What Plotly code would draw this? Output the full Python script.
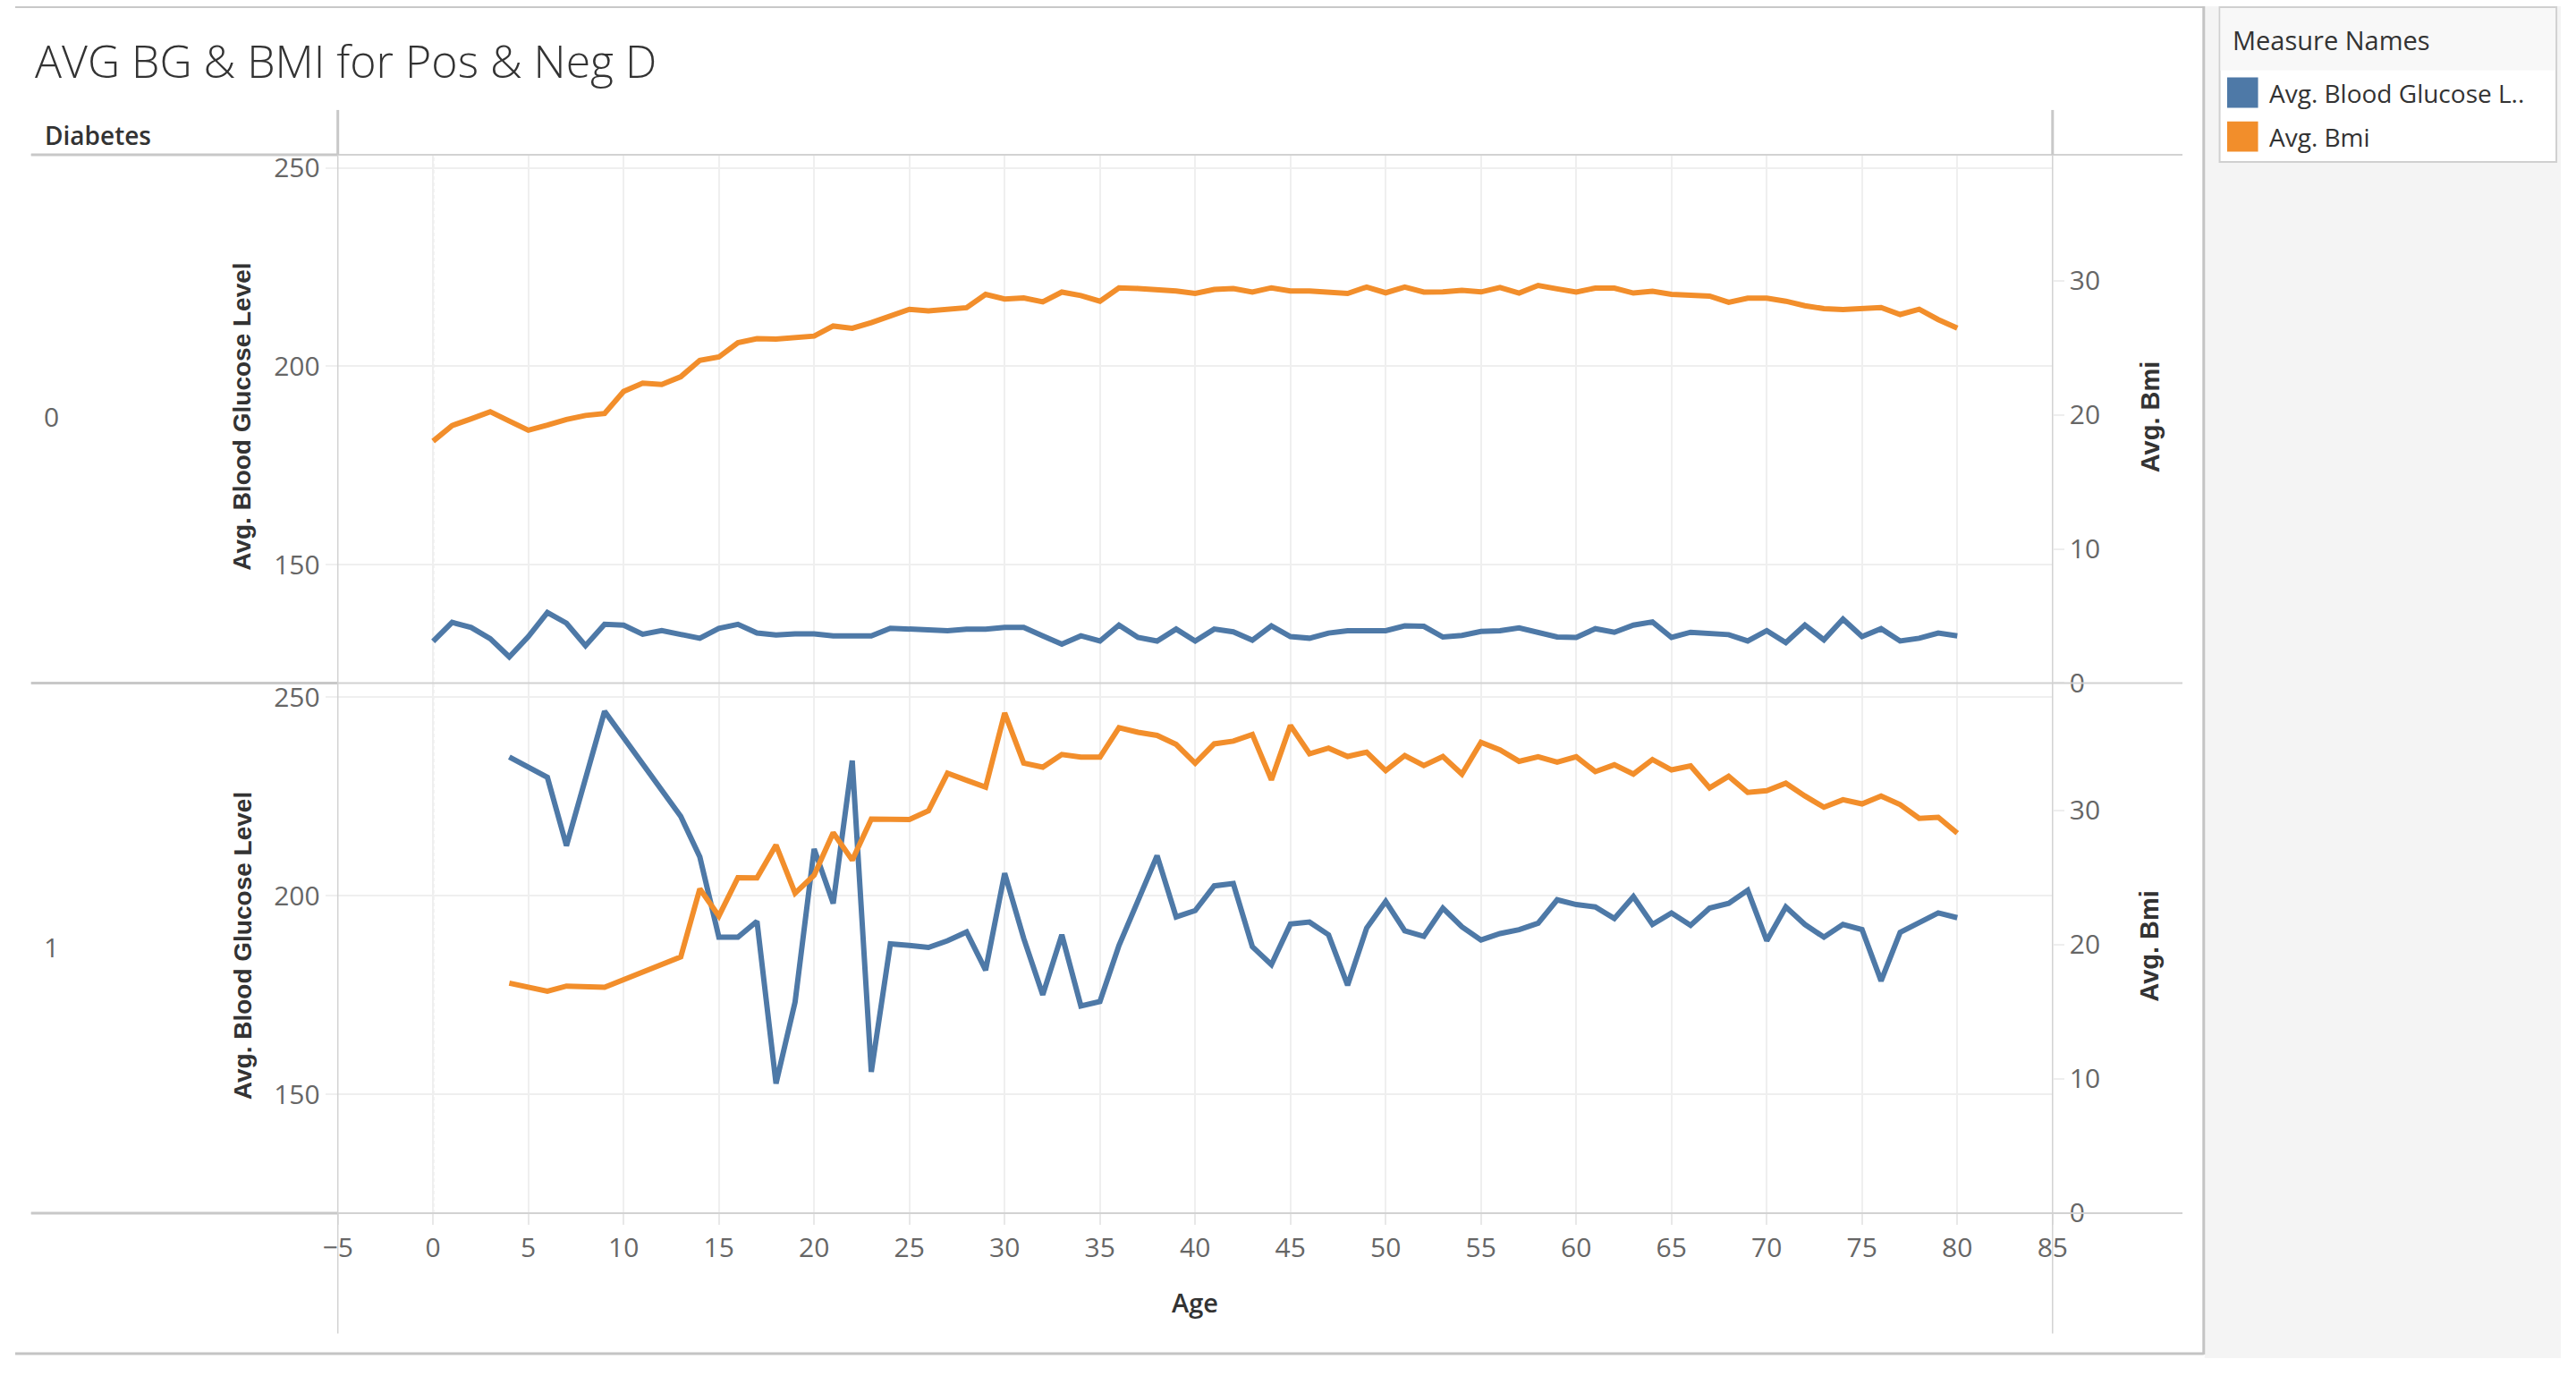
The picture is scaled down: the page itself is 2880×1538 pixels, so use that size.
import plotly.graph_objects as go

# ---------------- data ----------------
ages_neg = list(range(0, 81))
bg_neg = [130.7, 135.5, 134.2, 131.4, 126.8, 131.9, 138.0, 135.3, 129.6, 135.0,
          134.8, 132.5, 133.4, 132.3, 131.5, 134.0, 135.0, 132.8, 132.3, 132.6,
          132.6, 132.1, 132.1, 132.1, 134.0, 133.7, 133.4, 133.4, 133.8, 133.8,
          134.2, 134.2, 132.1, 130.0, 132.1, 130.8, 134.8, 131.7, 130.8, 133.8,
          130.8, 133.8, 133.1, 131.0, 134.6, 131.9, 131.5, 132.8, 133.4, 133.4,
          133.4, 134.6, 134.5, 131.8, 132.2, 133.2, 133.4, 134.1, 132.8, 131.8,
          131.7, 133.9, 133.0, 134.8, 135.6, 131.7, 133.0, 132.8, 132.4, 130.8,
          133.4, 130.4, 134.8, 131.1, 136.3, 131.9, 133.9, 130.8, 131.5, 132.8,
          132.1]
bmi_neg = [18.04, 19.21, 19.71, 20.24, 19.54, 18.86, 19.24, 19.66, 19.96, 20.11,
           21.75, 22.37, 22.27, 22.85, 24.07, 24.32, 25.39, 25.69, 25.66, 25.81,
           25.88, 26.63, 26.46, 26.88, 27.33, 27.88, 27.76, 27.85, 28.00, 28.99,
           28.65, 28.72, 28.43, 29.16, 28.90, 28.48, 29.48, 29.43, 29.36, 29.24,
           29.06, 29.36, 29.43, 29.16, 29.48, 29.24, 29.24, 29.11, 29.06, 29.54,
           29.11, 29.54, 29.16, 29.17, 29.30, 29.17, 29.50, 29.09, 29.66, 29.40,
           29.17, 29.46, 29.46, 29.09, 29.22, 28.99, 28.88, 28.86, 28.40, 28.71,
           28.71, 28.48, 28.14, 27.93, 27.86, 27.93, 28.01, 27.49, 27.88, 27.11,
           26.47]

ages_pos = [4, 6, 7, 9] + list(range(13, 81))
bg_pos = [234.9, 229.8, 212.6, 246.4,
          220.0, 209.8, 189.6, 189.6, 193.6, 152.8, 173.3, 211.8, 198.1, 234.0,
          155.7, 187.9, 187.5, 187.0, 188.7, 190.9, 181.3, 205.7, 189.3, 175.1,
          190.2, 172.3, 173.4, 187.5, 198.8, 210.1, 194.7, 196.3, 202.5, 203.1,
          187.2, 182.7, 192.9, 193.4, 190.2, 177.5, 191.9, 198.6, 191.2, 189.8,
          196.9, 192.2, 188.9, 190.5, 191.5, 193.1, 199.0, 197.8, 197.2, 194.3,
          199.8, 192.8, 195.7, 192.6, 196.9, 198.1, 201.4, 188.7, 197.2, 192.8,
          189.6, 192.8, 191.5, 178.6, 190.8, 193.4, 195.7, 194.5]
bmi_pos = [17.12, 16.52, 16.90, 16.82,
           19.08, 24.14, 22.12, 24.98, 24.96, 27.40, 23.82, 25.16, 28.32, 26.28,
           29.34, 29.34, 29.30, 29.95, 32.75, 32.23, 31.71, 37.24, 33.50, 33.20,
           34.15, 33.95, 33.95, 36.14, 35.80, 35.57, 34.90, 33.50, 34.94, 35.14,
           35.64, 32.26, 36.31, 34.20, 34.62, 34.00, 34.32, 32.95, 34.07, 33.32,
           34.00, 32.69, 35.05, 34.49, 33.64, 33.98, 33.57, 33.98, 32.87, 33.38,
           32.69, 33.77, 33.00, 33.30, 31.66, 32.53, 31.32, 31.45, 32.01, 31.06,
           30.22, 30.78, 30.47, 31.06, 30.42, 29.39, 29.47, 28.29]

diabetes_values = ["0", "1"]
measure_names = ["Avg. Blood Glucose L..", "Avg. Bmi"]
title_text = "AVG BG & BMI for Pos & Neg D"
left_title = "Avg. Blood Glucose Level"
right_title = "Avg. Bmi"
x_title = "Age"
row_header = "Diabetes"
legend_title = "Measure Names"

BLUE = "#4e79a7"
ORANGE = "#f28e2b"

# ---------------- layout helpers (page pixel -> paper) ----------------
W, H = 2880, 1538
def px(x):
    return x / W
def py(y):
    return 1 - y / H

PLOT_L, PLOT_R = 365, 2305
P0_T, P0_B = 169, 770
P1_T, P1_B = 771, 1373

fig = go.Figure()

LW = 6
# panel 0 (Diabetes = 0)
fig.add_trace(go.Scatter(x=ages_neg, y=bg_neg, mode="lines", name=measure_names[0],
                         line=dict(color=BLUE, width=LW), xaxis="x", yaxis="y"))
fig.add_trace(go.Scatter(x=ages_neg, y=bmi_neg, mode="lines", name=measure_names[1],
                         line=dict(color=ORANGE, width=LW), xaxis="x", yaxis="y2"))
# panel 1 (Diabetes = 1)
fig.add_trace(go.Scatter(x=ages_pos, y=bg_pos, mode="lines", name=measure_names[0],
                         line=dict(color=BLUE, width=LW), xaxis="x2", yaxis="y3"))
fig.add_trace(go.Scatter(x=ages_pos, y=bmi_pos, mode="lines", name=measure_names[1],
                         line=dict(color=ORANGE, width=LW), xaxis="x2", yaxis="y4"))

tickfont = dict(family="Open Sans", size=30, color="#666666")
GRID = "#efefef"

xcommon = dict(domain=[px(PLOT_L), px(PLOT_R)], range=[-5, 85], tick0=0, dtick=5,
               showgrid=True, gridcolor=GRID, gridwidth=2, zeroline=False,
               showline=False, tickfont=tickfont, fixedrange=True)
ycommon = dict(range=[120.2, 253.3], tickvals=[150, 200, 250], showgrid=True,
               gridcolor=GRID, gridwidth=2, zeroline=False, showline=False,
               tickfont=tickfont, ticks="outside", ticklen=13, tickcolor="#f0f0f0",
               tickwidth=2)
y2common = dict(range=[0, 39.4], tickvals=[0, 10, 20, 30], showgrid=False,
                zeroline=False, showline=False, tickfont=tickfont, side="right",
                ticks="outside", ticklen=12, tickcolor="#eeeeee", tickwidth=2)

fig.update_layout(
    width=W, height=H, margin=dict(l=0, r=0, t=0, b=0),
    paper_bgcolor="white", plot_bgcolor="white", showlegend=False,
    xaxis=dict(xcommon, anchor="y", showticklabels=False, ticks=""),
    xaxis2=dict(xcommon, anchor="y3", showticklabels=True, ticks="outside",
                ticklen=12, tickcolor="#e8e8e8", tickwidth=2),
    yaxis=dict(ycommon, domain=[py(P0_B), py(P0_T)], anchor="x"),
    yaxis2=dict(y2common, domain=[py(P0_B), py(P0_T)], anchor="x", overlaying="y"),
    yaxis3=dict(ycommon, domain=[py(P1_B), py(P1_T)], anchor="x2"),
    yaxis4=dict(y2common, domain=[py(P1_B), py(P1_T)], anchor="x2", overlaying="y3"),
)

shapes = []
def hline(y, x0, x1, color, width):
    shapes.append(dict(type="line", xref="paper", yref="paper", x0=px(x0), x1=px(x1),
                       y0=py(y), y1=py(y), line=dict(color=color, width=width), layer="above"))
def vline(x, y0, y1, color, width):
    shapes.append(dict(type="line", xref="paper", yref="paper", x0=px(x), x1=px(x),
                       y0=py(y0), y1=py(y1), line=dict(color=color, width=width), layer="above"))

# legend pane background
shapes.append(dict(type="rect", xref="paper", yref="paper", x0=px(2477), x1=1, y0=0, y1=1,
                   fillcolor="#f4f4f4", line=dict(width=0), layer="below"))
# dashboard borders
hline(1, 0, 2476, "#c8c8c8", 2)
hline(1533, 0, 2476, "#c4c4c4", 3)
vline(2476, 0, 1534, "#c4c4c4", 3)
# pane separators
for yy in (P0_T, P0_B, P1_B):
    hline(yy, 18, 2452, "#d2d2d2", 2)
    hline(yy, 18, PLOT_L, "#c8c8c8", 3)
vline(PLOT_L, 118, 1510, "#d2d2d2", 1.5)
vline(PLOT_R, 118, 1510, "#d2d2d2", 1.5)
vline(PLOT_L, 118, P0_T, "#c8c8c8", 3)
vline(PLOT_R, 118, P0_T, "#c8c8c8", 3)
# dashed zero line at Age = 0
shapes.append(dict(type="line", xref="x", yref="paper", x0=0, x1=0,
                   y0=py(P1_B), y1=py(P0_T), line=dict(color="#c6c6c6", width=2, dash="4px,3px"),
                   layer="below"))
# legend box
shapes.append(dict(type="rect", xref="paper", yref="paper", x0=px(2494), x1=px(2875),
                   y0=py(177), y1=py(1), fillcolor="white", line=dict(color="#d0d0d0", width=2)))
shapes.append(dict(type="rect", xref="paper", yref="paper", x0=px(2495), x1=px(2874),
                   y0=py(73), y1=py(2), fillcolor="#f8f8f8", line=dict(width=0)))
for i, col in enumerate([BLUE, ORANGE]):
    top = 81 + i * 50
    shapes.append(dict(type="rect", xref="paper", yref="paper", x0=px(2502.5), x1=px(2537.5),
                       y0=py(top + 34.5), y1=py(top), fillcolor=col, line=dict(width=0)))
fig.update_layout(shapes=shapes)

ann = []
def text(t, x, y, size, color, family="Open Sans", weight=400, xanchor="left", angle=0):
    ann.append(dict(text=t, x=px(x), y=py(y), xref="paper", yref="paper", showarrow=False,
                    xanchor=xanchor, yanchor="middle", textangle=angle,
                    font=dict(family=family, size=size, color=color, weight=weight)))

text(title_text, 20, 62, 50, "#333333", weight=300)
text(row_header, 31, 147, 28, "#333333", weight=600)
text(diabetes_values[0], 41, 467, 30, "#666666", xanchor="center")
text(diabetes_values[1], 41, 1070, 30, "#666666", xanchor="center")
for yc in (467, 1069):
    text(left_title, 257, yc, 28, "#333333", family="Liberation Sans", weight=700,
         xanchor="center", angle=-90)
    text(right_title, 2415, yc, 29, "#333333", family="Liberation Sans", weight=700,
         xanchor="center", angle=-90)
text(x_title, 1335, 1474, 29, "#333333", weight=600, xanchor="center")
# legend texts
text(legend_title, 2507, 38, 29, "#333333")
text(measure_names[0], 2548, 99, 28, "#333333")
text(measure_names[1], 2548, 149, 28, "#333333")
fig.update_layout(annotations=ann)

fig.write_html("out.html", config={"displayModeBar": False},
               post_script="document.body.style.margin='0';document.body.style.overflow='hidden';")
